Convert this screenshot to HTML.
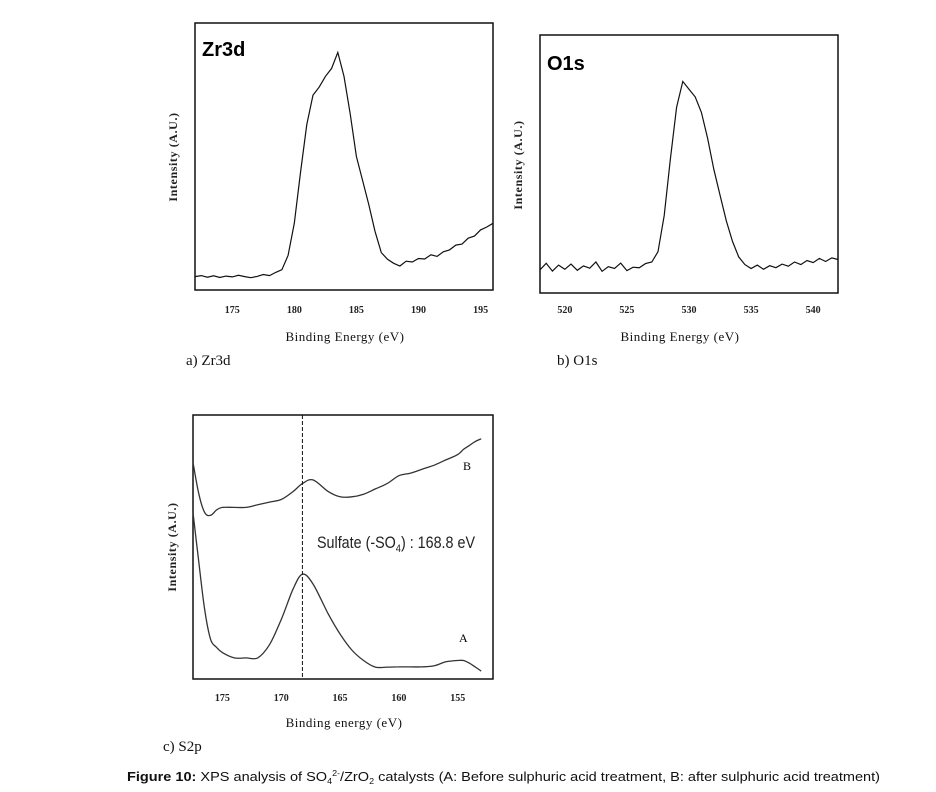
<!DOCTYPE html>
<html><head><meta charset="utf-8"><style>
html,body{margin:0;padding:0;background:#fff}
svg{display:block}
.tk{font-family:"Liberation Serif",serif;font-size:10px;font-weight:bold;fill:#222}
.ax{font-family:"Liberation Serif",serif;font-size:13px;fill:#111;letter-spacing:0.5px}
.yt{font-family:"Liberation Serif",serif;font-size:12px;font-weight:bold;fill:#222;letter-spacing:0.6px}
.cap{font-family:"Liberation Serif",serif;font-size:15px;fill:#111}
</style></head><body>
<svg id="fig" width="936" height="792" viewBox="0 0 936 792" xmlns="http://www.w3.org/2000/svg">
<g id="pa">
<rect x="195" y="23" width="298" height="267" fill="none" stroke="#111" stroke-width="1.5"/>
<text x="202" y="56" font-family="Liberation Sans,sans-serif" font-size="20" font-weight="bold">Zr3d</text>
<text class="yt" transform="translate(177,157) rotate(-90)" text-anchor="middle">Intensity (A.U.)</text>
<text class="ax" x="345" y="341" text-anchor="middle">Binding Energy (eV)</text>
<text class="cap" x="186" y="365">a) Zr3d</text>
</g>
<g id="pb">
<rect x="540" y="35" width="298" height="258" fill="none" stroke="#111" stroke-width="1.5"/>
<text x="547" y="70" font-family="Liberation Sans,sans-serif" font-size="20" font-weight="bold">O1s</text>
<text class="yt" transform="translate(522,165) rotate(-90)" text-anchor="middle">Intensity (A.U.)</text>
<text class="ax" x="680" y="341" text-anchor="middle">Binding Energy (eV)</text>
<text class="cap" x="557" y="365">b) O1s</text>
</g>
<g id="pc">
<rect x="193" y="415" width="300" height="264" fill="none" stroke="#111" stroke-width="1.5"/>
<text class="yt" transform="translate(176,547) rotate(-90)" text-anchor="middle">Intensity (A.U.)</text>
<text class="ax" x="344" y="727" text-anchor="middle">Binding energy (eV)</text>
<text class="cap" x="163" y="751">c) S2p</text>
<text x="317" y="548" font-family="Liberation Sans,sans-serif" font-size="17" fill="#222" textLength="158" lengthAdjust="spacingAndGlyphs">Sulfate (-SO<tspan font-size="11" dy="4">4</tspan><tspan dy="-4">) : 168.8 eV</tspan></text>
<text x="463" y="470" font-family="Liberation Serif,serif" font-size="12">B</text>
<text x="459" y="642" font-family="Liberation Serif,serif" font-size="12">A</text>
</g>
<text x="127" y="781" font-family="Liberation Sans,sans-serif" font-size="13" fill="#111" textLength="753" lengthAdjust="spacingAndGlyphs"><tspan font-weight="bold">Figure 10:</tspan> XPS analysis of SO<tspan font-size="8" dy="3">4</tspan><tspan font-size="8" dy="-8">2-</tspan><tspan dy="5">/ZrO</tspan><tspan font-size="8" dy="3">2</tspan><tspan dy="-3"> catalysts (A: Before sulphuric acid treatment, B: after sulphuric acid treatment)</tspan></text>
</svg>
<script>
// Zr3d data (0.5 eV step from 172)
const zrStart = 172;
const zrValues = [5,5.4,4.8,5.3,4.7,5.2,4.9,5.5,5.0,4.6,5.1,5.8,5.4,6.6,7.6,13,25,44,62,73,76,80,83,89,80,66,50,41,32,22,14,11.5,10,9,10.8,10.5,11.8,11.6,13.2,12.6,14.3,15,16.8,17.2,19.4,20.2,22.5,23.6,25];
const zrTicks = [175,180,185,190,195];
// O1s data (0.5 eV step from 518)
const oStart = 518;
const oValues = [9,11.5,8.5,10.8,9.2,11.2,8.8,10.5,9.6,12,8.4,10.2,9.5,11.6,8.7,10,9.8,11.4,12,16,30,52,72,82,79,76,70,60,48,38,28,20,14,11,9.5,10.8,9.2,10.6,9.8,11.2,10.4,12,11,12.6,11.8,13.4,12.2,13.6,13];
const oTicks = [520,525,530,535,540];
// S2p data
const sEnergy = [177.5,177,176.5,176,175.5,175,174,173,172,171,170,169,168.2,167.3,166,165,164,163,162,161,160,159,158,157,156,155,154.5,154,153.5,153];
const sA = [63,44,26,15,12,10,8,8,8,13,22.5,34,39.7,36,24.6,17,11,7,4.5,4.5,4.6,4.6,4.6,5,6.5,7,7,6,4.5,3];
const sB = [82,70,63,62,64,65,65,65,66,67,68,71,74,75.4,71,69,69,70,72,74,77,78,79.5,81,83,85,87,88.5,90,91];
const sTicks = [175,170,165,160,155];
const sulfateEnergy = 168.2;

const NS = "http://www.w3.org/2000/svg";
function scaleLin(d0,d1,r0,r1){return v=>r0+(v-d0)*(r1-r0)/(d1-d0);}
function mk(tag,attrs,parent){const e=document.createElementNS(NS,tag);for(const k in attrs)e.setAttribute(k,attrs[k]);parent.appendChild(e);return e;}

// panel a
const ga=document.getElementById('pa');
const xa=scaleLin(172,196,195,493), ya=scaleLin(0,100,290,23);
let d=zrValues.map((v,i)=>(i?'L':'M')+xa(zrStart+i*0.5).toFixed(1)+','+ya(v).toFixed(1)).join('');
let p=mk('path',{d:d,fill:'none',stroke:'#111','stroke-width':1.2},ga);


zrTicks.forEach(t=>{const e=mk('text',{x:xa(t),y:313,'text-anchor':'middle',class:'tk'},ga);e.textContent=t;

});

// panel b
const gb=document.getElementById('pb');
const xb=scaleLin(518,542,540,838), yb=scaleLin(0,100,293,35);
d=oValues.map((v,i)=>(i?'L':'M')+xb(oStart+i*0.5).toFixed(1)+','+yb(v).toFixed(1)).join('');
p=mk('path',{d:d,fill:'none',stroke:'#111','stroke-width':1.2},gb);


oTicks.forEach(t=>{const e=mk('text',{x:xb(t),y:313,'text-anchor':'middle',class:'tk'},gb);e.textContent=t;

});

// panel c
const gc=document.getElementById('pc');
const xc=scaleLin(177.5,152,193,493), yc=scaleLin(0,100,679,415);
function curve(vals){const pts=sEnergy.map((e,i)=>[xc(e),yc(vals[i])]);
 let s='M'+pts[0][0].toFixed(1)+','+pts[0][1].toFixed(1);
 for(let i=0;i<pts.length-1;i++){const p0=pts[Math.max(0,i-1)],p1=pts[i],p2=pts[i+1],p3=pts[Math.min(pts.length-1,i+2)];
  const c1=[p1[0]+(p2[0]-p0[0])/6,p1[1]+(p2[1]-p0[1])/6],c2=[p2[0]-(p3[0]-p1[0])/6,p2[1]-(p3[1]-p1[1])/6];
  s+='C'+c1.map(v=>v.toFixed(1))+' '+c2.map(v=>v.toFixed(1))+' '+p2.map(v=>v.toFixed(1));}
 return s;}
p=mk('path',{d:curve(sA),fill:'none',stroke:'#333','stroke-width':1.3},gc);


p=mk('path',{d:curve(sB),fill:'none',stroke:'#333','stroke-width':1.3},gc);


p=mk('line',{x1:xc(sulfateEnergy),x2:xc(sulfateEnergy),y1:415,y2:679,stroke:'#111','stroke-width':1,'stroke-dasharray':'4,2'},gc);


sTicks.forEach(t=>{const e=mk('text',{x:xc(t),y:701,'text-anchor':'middle',class:'tk'},gc);e.textContent=t;

});
</script>
</body></html>
